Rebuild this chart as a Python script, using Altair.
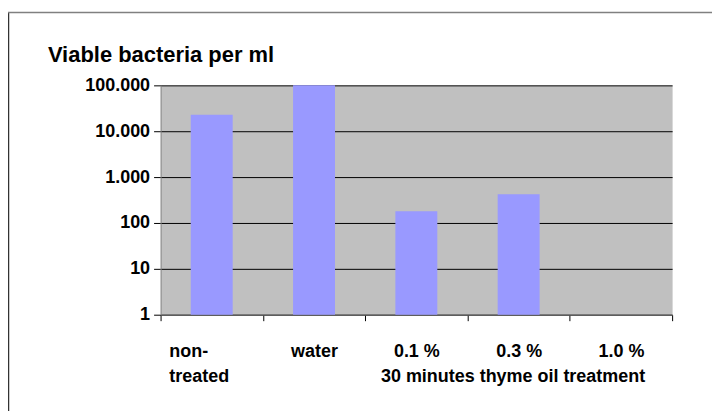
import altair as alt
import pandas as pd

# ---- data ----
categories = ["non-treated", "water", "0.1 %", "0.3 %", "1.0 %"]
bacteria_per_ml = [23000, 100000, 180, 420, 0]
y_tick_values = [1, 10, 100, 1000, 10000, 100000]
y_tick_labels = ["1", "10", "100", "1.000", "10.000", "100.000"]
title_text = "Viable bacteria per ml"
x_title_text = "30 minutes thyme oil treatment"

df = pd.DataFrame({"category": categories, "value": bacteria_per_ml})
df["base"] = 1
frame_df = pd.DataFrame({"dummy": [0]})

FONT = "Liberation Sans"
W, H = 513, 230

y_label_expr = " : ".join(
    f"datum.value == {v} ? '{l}'" for v, l in zip(y_tick_values, y_tick_labels)
) + " : ''"
x_label_expr = "datum.value == 'non-treated' ? ['non-', 'treated'] : datum.value"

x_axis = alt.Axis(
    title=x_title_text,
    titleX=353, titleY=67, titleAlign="center", titleBaseline="alphabetic",
    titleFont=FONT, titleFontSize=18, titleFontWeight="bold", titleColor="black",
    labelAngle=0, labelFont=FONT, labelFontSize=18, labelFontWeight="bold",
    labelColor="black", labelExpr=x_label_expr, labelLineHeight=25,
    labelPadding=22, labelBaseline="top", labelOverlap=False,
    labelAlign={"condition": {"test": "datum.value == 'non-treated'", "value": "left"}, "value": "center"},
    labelOffset={"condition": {"test": "datum.value == 'non-treated'", "value": -43}, "value": 0},
    tickBand="extent", tickSize=6, tickColor="black", domainColor="#666666",
    grid=False,
)

y_axis = alt.Axis(
    values=y_tick_values, labelExpr=y_label_expr, title=None,
    grid=True, gridColor="black", gridWidth=1, gridOpacity=1,
    domainColor="#808080", tickColor="black", tickSize=7, labelPadding=4,
    labelFont=FONT, labelFontSize=18, labelFontWeight="bold", labelColor="black",
)

bars = alt.Chart(df).transform_filter("datum.value > 0").mark_bar(
    color="#9999FF", width={"band": 0.41}
).encode(
    x=alt.X("category:N", sort=categories,
            scale=alt.Scale(domain=categories, paddingInner=0, paddingOuter=0),
            axis=x_axis),
    y=alt.Y("value:Q", scale=alt.Scale(type="log", domain=[1, 100000]), axis=y_axis),
    y2="base:Q",
)

left_border = alt.Chart(frame_df).mark_rule(color="#333333", strokeWidth=2.5).encode(
    x=alt.value(-153), y=alt.value(-73), y2=alt.value(H + 110)
)
top_border = alt.Chart(frame_df).mark_rule(color="#808080", strokeWidth=1.5).encode(
    x=alt.value(-153), x2=alt.value(W + 60), y=alt.value(-73)
)

chart = alt.layer(bars, left_border, top_border).properties(
    width=W, height=H,
    padding={"left": 153, "top": 77, "right": 40, "bottom": 96},
    autosize=alt.AutoSizeParams(type="none"),
    title=alt.TitleParams(
        text=title_text, anchor="start", frame="group", dx=-113, dy=73,
        font=FONT, fontSize=22, fontWeight="bold", color="black",
        baseline="alphabetic", offset=0,
    ),
).configure_view(fill="#C0C0C0", stroke="transparent")

chart.save("out.html", embed_options={"renderer": "svg", "actions": False})
